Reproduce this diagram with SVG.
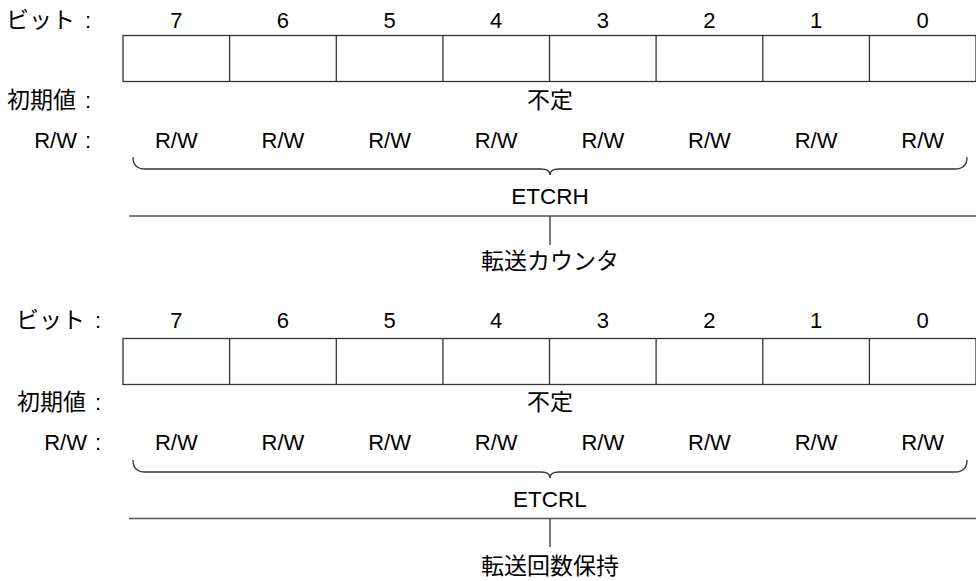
<svg xmlns="http://www.w3.org/2000/svg" width="976" height="581" viewBox="0 0 976 581">
<style>
text{font-family:"Liberation Sans","Noto Sans CJK JP",Arial,sans-serif;fill:#000}
.n{font-size:22px;text-anchor:middle}
.e{font-size:22.5px;text-anchor:middle}
.jc{font-size:23px;text-anchor:middle}
.lbl{font-size:23px;text-anchor:end}
.rl{font-size:22px;text-anchor:end}
.co{font-size:22px;text-anchor:middle}
.box{fill:#fff;stroke:#333;stroke-width:1.3}
.ln{fill:none;stroke:#333;stroke-width:1.3}
.hl{fill:none;stroke:#555;stroke-width:1.5}
</style>
<rect width="976" height="581" fill="#fff"/>
<g id="reg-etcrh">
  <g id="etcrh-labels">
    <text class="lbl" x="75" y="28">ビット</text><text class="co" x="88" y="28">:</text>
    <text class="lbl" x="76" y="108">初期値</text><text class="co" x="88" y="108">:</text>
    <text class="rl" x="77" y="148">R/W</text><text class="co" x="88" y="148">:</text>
  </g>
  <g id="etcrh-bits">
    <text class="n" x="176.3" y="28">7</text>
    <text class="n" x="282.9" y="28">6</text>
    <text class="n" x="389.6" y="28">5</text>
    <text class="n" x="496.2" y="28">4</text>
    <text class="n" x="602.8" y="28">3</text>
    <text class="n" x="709.4" y="28">2</text>
    <text class="n" x="816.1" y="28">1</text>
    <text class="n" x="922.7" y="28">0</text>
  </g>
  <g id="etcrh-box">
    <rect class="box" x="123" y="35.5" width="853" height="46"/>
    <path class="ln" d="M229.6,35.5V81.5M336.3,35.5V81.5M442.9,35.5V81.5M549.5,35.5V81.5M656.1,35.5V81.5M762.8,35.5V81.5M869.4,35.5V81.5"/>
  </g>
  <text class="jc" x="550" y="108">不定</text>
  <g id="etcrh-rw">
    <text class="n" x="176.3" y="148">R/W</text>
    <text class="n" x="282.9" y="148">R/W</text>
    <text class="n" x="389.6" y="148">R/W</text>
    <text class="n" x="496.2" y="148">R/W</text>
    <text class="n" x="602.8" y="148">R/W</text>
    <text class="n" x="709.4" y="148">R/W</text>
    <text class="n" x="816.1" y="148">R/W</text>
    <text class="n" x="922.7" y="148">R/W</text>
  </g>
  <text class="e" x="550" y="204">ETCRH</text>
  <text class="jc" x="550" y="269">転送カウンタ</text>
</g>
<g id="reg-etcrl">
  <g id="etcrl-labels">
    <text class="lbl" x="85" y="328">ビット</text><text class="co" x="98" y="328">:</text>
    <text class="lbl" x="86" y="410">初期値</text><text class="co" x="98" y="410">:</text>
    <text class="rl" x="87" y="450">R/W</text><text class="co" x="98" y="450">:</text>
  </g>
  <g id="etcrl-bits">
    <text class="n" x="176.3" y="328">7</text>
    <text class="n" x="282.9" y="328">6</text>
    <text class="n" x="389.6" y="328">5</text>
    <text class="n" x="496.2" y="328">4</text>
    <text class="n" x="602.8" y="328">3</text>
    <text class="n" x="709.4" y="328">2</text>
    <text class="n" x="816.1" y="328">1</text>
    <text class="n" x="922.7" y="328">0</text>
  </g>
  <g id="etcrl-box">
    <rect class="box" x="123" y="338.5" width="853" height="46"/>
    <path class="ln" d="M229.6,338.5V384.5M336.3,338.5V384.5M442.9,338.5V384.5M549.5,338.5V384.5M656.1,338.5V384.5M762.8,338.5V384.5M869.4,338.5V384.5"/>
  </g>
  <text class="jc" x="550" y="410">不定</text>
  <g id="etcrl-rw">
    <text class="n" x="176.3" y="450">R/W</text>
    <text class="n" x="282.9" y="450">R/W</text>
    <text class="n" x="389.6" y="450">R/W</text>
    <text class="n" x="496.2" y="450">R/W</text>
    <text class="n" x="602.8" y="450">R/W</text>
    <text class="n" x="709.4" y="450">R/W</text>
    <text class="n" x="816.1" y="450">R/W</text>
    <text class="n" x="922.7" y="450">R/W</text>
  </g>
  <text class="e" x="550" y="507">ETCRL</text>
  <text class="jc" x="550" y="574">転送回数保持</text>
</g>
<g id="connectors">
  <path class="ln" d="M133,157Q133,169 145,169H541Q550,169 550,175Q550,169 559,169H955Q967,169 967,157"/>
  <path class="hl" d="M129,216H976"/>
  <path class="ln" d="M550,216V245"/>
  <path class="ln" d="M133,460Q133,472 145,472H541Q550,472 550,478Q550,472 559,472H955Q967,472 967,460"/>
  <path class="hl" d="M129,518.5H976"/>
  <path class="ln" d="M550,518.5V547"/>
</g>
</svg>
